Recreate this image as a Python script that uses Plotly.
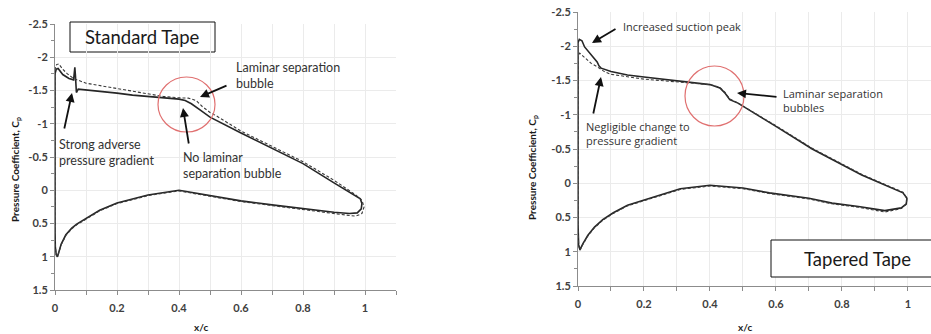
import plotly.graph_objects as go

W, H = 931, 334

# ---------------- data ----------------
# Left panel: Standard Tape (solid) vs clean reference (dashed)
std_tape_x = [0.0, 0.0, 0.004, 0.01, 0.025, 0.045, 0.06, 0.064, 0.066, 0.069, 0.075, 0.1, 0.15, 0.2, 0.25,
              0.3, 0.35, 0.4, 0.42, 0.44, 0.47, 0.5, 0.6, 0.7, 0.8, 0.9, 0.97, 0.985, 0.99, 0.988, 0.975,
              0.95, 0.9, 0.8, 0.7, 0.6, 0.5, 0.4, 0.3, 0.2, 0.144, 0.09, 0.07, 0.054, 0.035, 0.02, 0.012,
              0.008, 0.004, 0.001, 0.0]
std_tape_cp = [0.6, -1.75, -1.82, -1.83, -1.74, -1.68, -1.66, -1.85, -1.72, -1.47, -1.52, -1.51, -1.48, -1.46,
               -1.43, -1.41, -1.39, -1.37, -1.35, -1.30, -1.20, -1.10, -0.86, -0.63, -0.40, -0.11, 0.09, 0.13,
               0.20, 0.28, 0.34, 0.35, 0.33, 0.28, 0.22, 0.16, 0.08, 0.0, 0.07, 0.19, 0.30, 0.45, 0.51, 0.57,
               0.67, 0.81, 0.93, 1.0, 0.97, 0.85, 0.6]

std_clean_x = [0.0, 0.0, 0.005, 0.012, 0.025, 0.04, 0.06, 0.1, 0.15, 0.2, 0.25, 0.3, 0.35, 0.4, 0.43, 0.455,
               0.475, 0.5, 0.52, 0.6, 0.7, 0.8, 0.9, 0.97, 0.99, 0.997, 0.99, 0.97, 0.95, 0.9, 0.8, 0.7, 0.6,
               0.5, 0.4, 0.3, 0.2, 0.144, 0.09, 0.07, 0.054, 0.035, 0.02, 0.012, 0.008, 0.004, 0.001, 0.0]
std_clean_cp = [0.6, -1.82, -1.89, -1.90, -1.82, -1.75, -1.68, -1.61, -1.57, -1.53, -1.49, -1.45, -1.41, -1.39,
                -1.385, -1.35, -1.26, -1.17, -1.12, -0.89, -0.66, -0.43, -0.15, 0.07, 0.15, 0.25, 0.35, 0.39,
                0.38, 0.35, 0.29, 0.23, 0.17, 0.09, 0.01, 0.08, 0.20, 0.31, 0.46, 0.52, 0.58, 0.68, 0.82, 0.94,
                1.0, 0.97, 0.85, 0.6]

# Right panel: Tapered Tape (solid) vs clean reference (dashed)
tap_tape_x = [0.0, 0.0, 0.004, 0.012, 0.02, 0.042, 0.058, 0.064, 0.07, 0.1, 0.15, 0.2, 0.25, 0.3, 0.35, 0.4,
              0.43, 0.445, 0.46, 0.485, 0.6, 0.71, 0.86, 0.985, 0.997, 0.995, 0.98, 0.93, 0.85, 0.77, 0.7,
              0.58, 0.5, 0.4, 0.31, 0.2, 0.15, 0.107, 0.075, 0.05, 0.03, 0.015, 0.006, 0.002, 0.0]
tap_tape_cp = [0.6, -2.05, -2.10, -2.08, -1.99, -1.87, -1.77, -1.71, -1.68, -1.63, -1.58, -1.55, -1.52, -1.49,
               -1.47, -1.44, -1.39, -1.32, -1.22, -1.17, -0.83, -0.50, -0.12, 0.14, 0.22, 0.30, 0.36, 0.40,
               0.34, 0.29, 0.22, 0.14, 0.07, 0.03, 0.08, 0.24, 0.32, 0.43, 0.53, 0.64, 0.76, 0.88, 0.97, 0.90,
               0.6]

tap_clean_x = [0.0, 0.0, 0.005, 0.02, 0.04, 0.058, 0.08, 0.1, 0.15, 0.2, 0.25, 0.3, 0.35, 0.4, 0.43, 0.445,
               0.46, 0.485, 0.6, 0.71, 0.86, 0.985, 0.997, 0.995, 0.98, 0.93, 0.85, 0.77, 0.7, 0.58, 0.5, 0.4,
               0.31, 0.2, 0.15, 0.107, 0.075, 0.05, 0.03, 0.015, 0.006, 0.002, 0.0]
tap_clean_cp = [0.6, -1.85, -1.90, -1.83, -1.75, -1.70, -1.63, -1.59, -1.55, -1.52, -1.50, -1.48, -1.46, -1.44,
                -1.40, -1.33, -1.23, -1.17, -0.84, -0.51, -0.13, 0.13, 0.22, 0.31, 0.37, 0.42, 0.35, 0.30,
                0.23, 0.15, 0.08, 0.04, 0.09, 0.25, 0.33, 0.44, 0.54, 0.65, 0.77, 0.89, 0.98, 0.91, 0.6]

y_tickvals = [-2.5, -2, -1.5, -1, -0.5, 0, 0.5, 1, 1.5]
y_ticktext = ["-2.5", "-2", "-1.5", "-1", "-0.5", "0", "0.5", "1", "1.5"]
x_tickvals = [0, 0.2, 0.4, 0.6, 0.8, 1]
x_ticktext = ["0", "0.2", "0.4", "0.6", "0.8", "1"]

# ---------------- helpers for pixel placement ----------------
def PX(x):
    return x / W

def PY(y):
    return 1 - y / H

SOLID = "#262626"
DASH = "#3a3a3a"

fig = go.Figure()
fig.add_trace(go.Scatter(x=std_tape_x, y=std_tape_cp, mode="lines", xaxis="x", yaxis="y",
                         line=dict(color=SOLID, width=1.6), showlegend=False))
fig.add_trace(go.Scatter(x=std_clean_x, y=std_clean_cp, mode="lines", xaxis="x", yaxis="y",
                         line=dict(color=DASH, width=1.1, dash="3px,2px"), showlegend=False))
fig.add_trace(go.Scatter(x=tap_tape_x, y=tap_tape_cp, mode="lines", xaxis="x2", yaxis="y2",
                         line=dict(color=SOLID, width=1.6), showlegend=False))
fig.add_trace(go.Scatter(x=tap_clean_x, y=tap_clean_cp, mode="lines", xaxis="x2", yaxis="y2",
                         line=dict(color=DASH, width=1.1, dash="3px,2px"), showlegend=False))

tickfont = dict(family="Lato", size=11, color="#404040", weight="bold")
grid = "#ebebeb"
axcol = "#8c8c8c"

def xaxis(domain, rng, anchor):
    return dict(domain=domain, range=rng, anchor=anchor, tickvals=x_tickvals, ticktext=x_ticktext,
                showgrid=True, gridcolor=grid, gridwidth=1, zeroline=False, automargin=False,
                showline=True, linecolor=axcol, linewidth=1, ticks="outside", ticklen=4, tickcolor=axcol,
                ticklabelstandoff=4, tickfont=tickfont,
                minor=dict(dtick=0.1, tick0=0, ticks="outside", ticklen=4, tickcolor=axcol,
                           showgrid=True, gridcolor=grid))

def yaxis(domain, anchor):
    return dict(domain=domain, range=[1.5, -2.5], anchor=anchor, tickvals=y_tickvals, ticktext=y_ticktext,
                showgrid=True, gridcolor=grid, gridwidth=1, zeroline=False, automargin=False,
                showline=True, linecolor=axcol, linewidth=1, ticks="outside", ticklen=4, tickcolor=axcol,
                tickfont=tickfont,
                minor=dict(dtick=0.25, tick0=0, ticks="outside", ticklen=3, tickcolor=axcol, showgrid=False))

fig.update_layout(
    width=W, height=H, margin=dict(l=0, r=0, t=0, b=0, pad=0, autoexpand=False),
    paper_bgcolor="white", plot_bgcolor="white",
    xaxis=xaxis([PX(55), PX(396)], [0, 1.1], "y"),
    yaxis=yaxis([PY(290), PY(24)], "x"),
    xaxis2=xaxis([PX(578), 1.0], [0, 1.07], "y2"),
    yaxis2=yaxis([PY(286), PY(12)], "x2"),
)

ann_font = dict(family="Lato", size=12.5, color="#333333")
ann_font_r = dict(family="Open Sans", size=11, color="#333333")
title_font = dict(family="Lato", size=10, color="#1a1a1a", weight="bold")
box_font = dict(family="Lato", size=18.5, color="#1a1a1a")

def ctr(x, y, s, f, angle=0):
    return dict(x=PX(x), y=PY(y), xref="paper", yref="paper", text=s, showarrow=False,
                xanchor="center", yanchor="middle", textangle=angle, font=f)

annotations = []
# axis titles
annotations += [
    ctr(15, 170, "Pressure Coefficient, C<sub>p</sub>", title_font, -90),
    ctr(532, 168, "Pressure Coefficient, C<sub>p</sub>", title_font, -90),
    ctr(201, 327, "x/c", title_font),
    ctr(745, 327, "x/c", title_font),
]
# box labels
annotations += [
    ctr(142, 37, "Standard Tape", box_font),
    ctr(857, 259, "Tapered Tape", box_font),
]
# text callouts
def txt(x, y, s, f):
    return dict(x=PX(x), y=PY(y), xref="paper", yref="paper", text=s, showarrow=False, align="left",
                xanchor="left", yanchor="middle", font=f)

annotations += [
    txt(234, 75.5, "Laminar separation<br>bubble", ann_font),
    txt(57, 152, "Strong adverse<br>pressure gradient", ann_font),
    txt(181, 165, "No laminar<br>separation bubble", ann_font),
    txt(621, 26, "Increased suction peak", ann_font_r),
    txt(584, 133.5, "Negligible change to<br>pressure gradient", ann_font_r),
    txt(781, 100.5, "Laminar separation<br>bubbles", ann_font_r),
]
# arrows: (tip x, tip y, tail x, tail y) in pixels
arrows = [(72, 93, 64, 130), (183, 108, 189, 145), (200, 97, 228, 85),
          (592, 43, 617, 28), (601, 77, 593, 115), (737, 93, 778, 97)]
for tx, ty, sx, sy in arrows:
    annotations.append(dict(x=PX(tx), y=PY(ty), xref="paper", yref="paper", text="", showarrow=True,
                            ax=sx - tx, ay=sy - ty, arrowhead=2, arrowsize=1, arrowwidth=1.8,
                            arrowcolor="#111111", standoff=0, startstandoff=0))
fig.update_layout(annotations=annotations)

shapes = [
    dict(type="rect", xref="paper", yref="paper", x0=PX(70), x1=PX(215), y0=PY(52), y1=PY(22),
         line=dict(color="#111111", width=1), fillcolor="white", layer="below"),
    dict(type="rect", xref="paper", yref="paper", x0=PX(771), x1=PX(940), y0=PY(277), y1=PY(240),
         line=dict(color="#111111", width=1), fillcolor="white", layer="above"),
    dict(type="circle", xref="paper", yref="paper", x0=PX(158), x1=PX(215), y0=PY(132), y1=PY(77),
         line=dict(color="#e07070", width=1.2)),
    dict(type="circle", xref="paper", yref="paper", x0=PX(685), x1=PX(744), y0=PY(126), y1=PY(66),
         line=dict(color="#e07070", width=1.2)),
]
fig.update_layout(shapes=shapes)

fig.write_html("out.html", config={"displayModeBar": False},
               post_script="document.body.style.margin='0';document.body.style.overflow='hidden';")
